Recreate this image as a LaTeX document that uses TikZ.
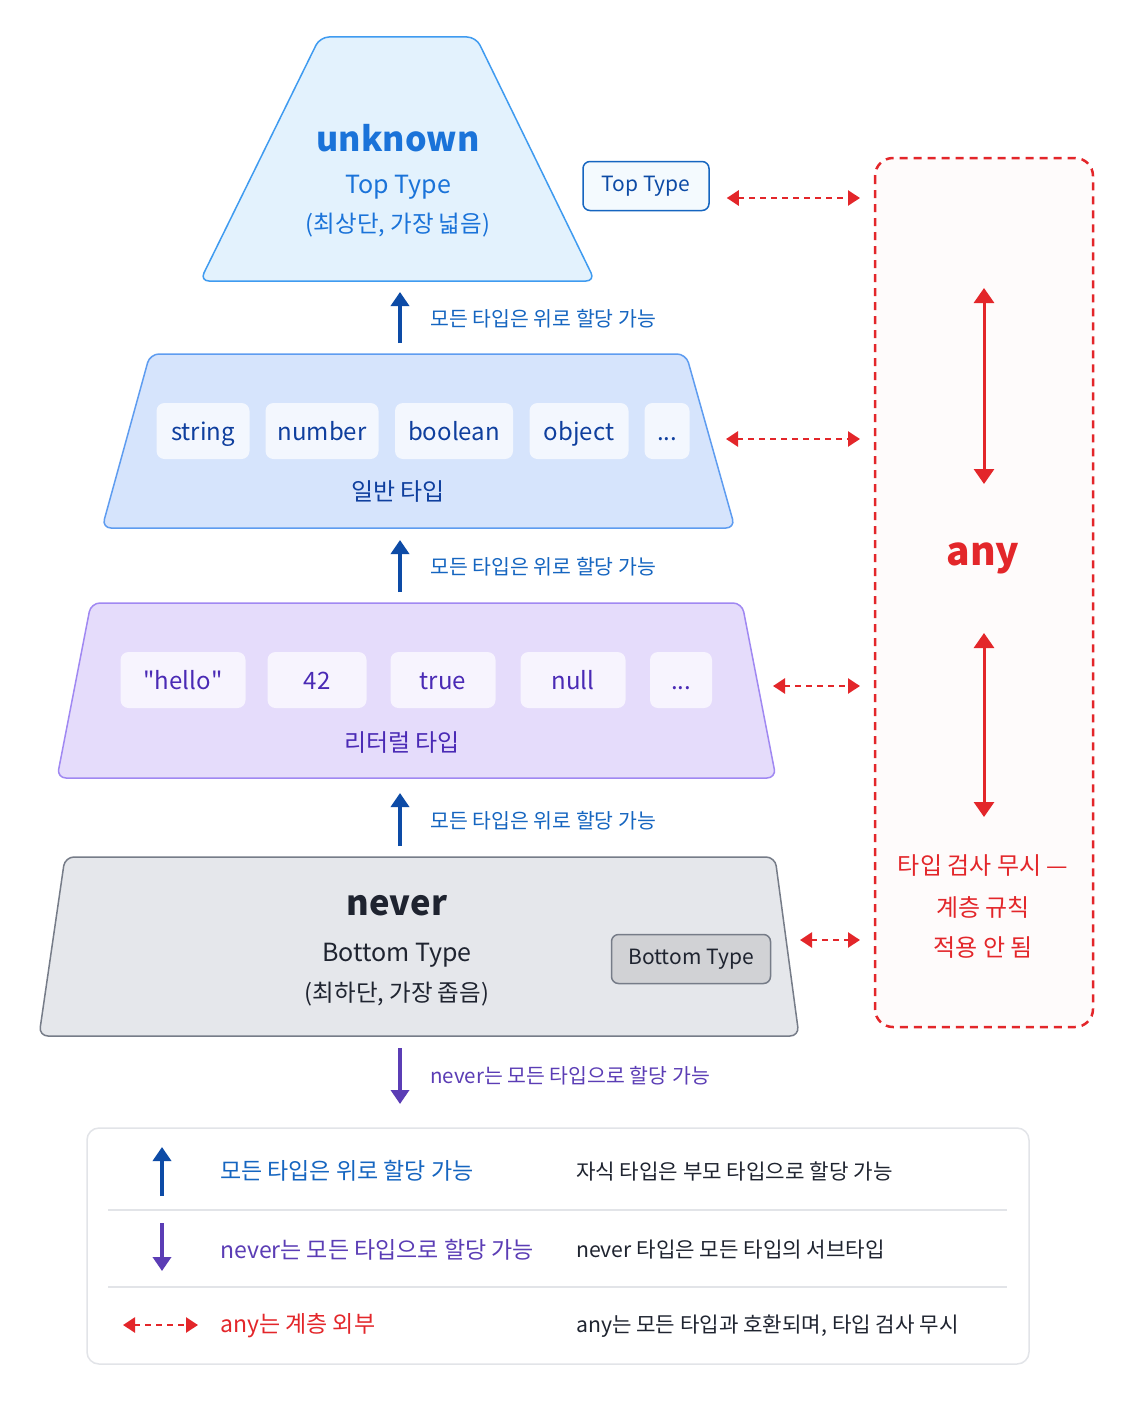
\documentclass[tikz,border=0pt]{standalone}
\usepackage{fontspec}
\setmainfont{Noto Sans CJK KR}
\usetikzlibrary{arrows.meta,positioning,calc}

\definecolor{topfill}{HTML}{E3F2FD}
\definecolor{topline}{HTML}{3F9BF0}
\definecolor{toptext}{HTML}{1A73D9}
\definecolor{genfill}{HTML}{D6E4FC}
\definecolor{genline}{HTML}{5E9CF0}
\definecolor{gentext}{HTML}{0F3F9E}
\definecolor{litfill}{HTML}{E5DCFB}
\definecolor{litline}{HTML}{A088F2}
\definecolor{littext}{HTML}{4A2AB5}
\definecolor{nevfill}{HTML}{E5E7EB}
\definecolor{nevline}{HTML}{767C88}
\definecolor{nevtext}{HTML}{1F2430}
\definecolor{anyred}{HTML}{E3262A}
\definecolor{upblue}{HTML}{0D4BA6}
\definecolor{lblblue}{HTML}{1565C0}
\definecolor{downpurple}{HTML}{5B3DB5}
\definecolor{legline}{HTML}{E2E4E8}

\newcommand\fsz[1]{\fontsize{#1}{#1}\selectfont}

\tikzset{
  layer/.style={rounded corners=9pt, line width=1.5pt},
  chip/.style={rounded corners=8pt, minimum height=56pt, inner sep=0pt, font=\fsz{24},
    text height=18pt, text depth=0pt},
  tag/.style={rounded corners=7pt, line width=1.5pt, inner sep=0pt, minimum height=49pt, font=\fsz{21}},
  uparr/.style={line width=4pt, draw=upblue, -{Triangle[width=18pt,length=14pt]}},
  downarr/.style={line width=4pt, draw=downpurple, -{Triangle[width=18pt,length=14pt]}},
  anyarr/.style={line width=2.5pt, draw=anyred, dash pattern=on 6pt off 5pt,
    {Triangle[width=15pt,length=12pt]}-{Triangle[width=15pt,length=12pt]}},
  anydbl/.style={line width=3pt, draw=anyred,
    {Triangle[width=20pt,length=15pt]}-{Triangle[width=20pt,length=15pt]}},
  arrlbl/.style={anchor=west, inner sep=0pt, font=\fsz{20.5}},
}

\begin{document}
\begin{tikzpicture}[x=1pt, y=-1pt]
  \useasboundingbox (0,0) rectangle (1122,1402);
  \fill[white] (0,0) rectangle (1122,1402);

  % layers
  \draw[layer, fill=topfill, draw=topline] (200,281) -- (320,37) -- (476,37) -- (595,281) -- cycle;
  \draw[layer, fill=genfill, draw=genline] (102,528) -- (150,354) -- (686,354) -- (735,528) -- cycle;
  \draw[layer, fill=litfill, draw=litline] (57,778) -- (91,603) -- (742,603) -- (776,778) -- cycle;
  \draw[layer, fill=nevfill, draw=nevline] (39,1036) -- (65,857) -- (775,857) -- (799,1036) -- cycle;

  % unknown
  \node[text=toptext, font=\fsz{34}\bfseries] (unk) at (398,138) {unknown};
  \node[text=toptext, font=\fsz{25}] (unktop) at (398,187) {Top Type};
  \node[text=toptext, font=\fsz{23.5}] (unkdesc) at (398,225) {(최상단, 가장 넓음)};
  \node[tag, draw=lblblue, fill=topfill!40, text=upblue, minimum width=126pt] (toptag) at (646,186) {Top Type};

  % general
  \node[chip, fill=white!70!genfill, text=gentext, minimum width=93pt] (str) at (203,431) {string};
  \node[chip, fill=white!70!genfill, text=gentext, minimum width=113pt] (num) at (322,431) {number};
  \node[chip, fill=white!70!genfill, text=gentext, minimum width=118pt] (bool) at (454,431) {boolean};
  \node[chip, fill=white!70!genfill, text=gentext, minimum width=99pt] (obj) at (579,431) {object};
  \node[chip, fill=white!70!genfill, text=gentext, minimum width=45pt] (gdots) at (667,431) {...};
  \node[text=gentext, font=\fsz{24}] (gen) at (398,492) {일반 타입};

  % literal
  \node[chip, fill=white!70!litfill, text=littext, minimum width=125pt] (hello) at (183,680) {\textquotedbl hello\textquotedbl};
  \node[chip, fill=white!70!litfill, text=littext, minimum width=99pt] (n42) at (317,680) {42};
  \node[chip, fill=white!70!litfill, text=littext, minimum width=105pt] (tru) at (443,680) {true};
  \node[chip, fill=white!70!litfill, text=littext, minimum width=105pt] (nul) at (573,680) {null};
  \node[chip, fill=white!70!litfill, text=littext, minimum width=62pt] (ldots) at (681,680) {...};
  \node[text=littext, font=\fsz{24}] (lit) at (402,743) {리터럴 타입};

  % never
  \node[text=nevtext, font=\fsz{34.5}\bfseries] (nev) at (397,906) {never};
  \node[text=nevtext, font=\fsz{25}] (nevbot) at (397,955) {Bottom Type};
  \node[text=nevtext, font=\fsz{23.5}] (nevdesc) at (397,994) {(최하단, 가장 좁음)};
  \node[tag, draw=nevline, fill=nevfill!80!gray, text=nevtext, minimum width=159pt] (bottag) at (691,959) {Bottom Type};

  % assign arrows
  \coordinate (u1s) at (400,343); \coordinate (u1e) at (400,292);
  \coordinate (u2s) at (400,592); \coordinate (u2e) at (400,540);
  \coordinate (u3s) at (400,846); \coordinate (u3e) at (400,793);
  \coordinate (dns) at (400,1048); \coordinate (dne) at (400,1104);
  \draw[uparr] (u1s) -- (u1e);
  \draw[uparr] (u2s) -- (u2e);
  \draw[uparr] (u3s) -- (u3e);
  \draw[downarr] (dns) -- (dne);
  \node[arrlbl, text=lblblue] (l1) at (430,319) {모든 타입은 위로 할당 가능};
  \node[arrlbl, text=lblblue] (l2) at (430,567) {모든 타입은 위로 할당 가능};
  \node[arrlbl, text=lblblue] (l3) at (430,821) {모든 타입은 위로 할당 가능};
  \node[arrlbl, text=downpurple] (l4) at (430,1076) {never는 모든 타입으로 할당 가능};

  % any
  \draw[anyred, line width=2.5pt, dash pattern=on 8pt off 6pt, rounded corners=18pt, fill=anyred!2]
    (875,158) rectangle (1093,1027);
  \node[text=anyred, font=\fsz{39}\bfseries] (any) at (983,558) {any};
  \coordinate (a1s) at (984,288); \coordinate (a1e) at (984,484);
  \coordinate (a2s) at (984,633); \coordinate (a2e) at (984,817);
  \draw[anydbl] (a1s) -- (a1e);
  \draw[anydbl] (a2s) -- (a2e);
  \node[text=anyred, font=\fsz{24}] (r1) at (983,866) {타입 검사 무시 —};
  \node[text=anyred, font=\fsz{24}] (r2) at (983,907) {계층 규칙};
  \node[text=anyred, font=\fsz{24}] (r3) at (983,947) {적용 안 됨};

  \coordinate (k1) at (860,198); \coordinate (k2) at (860,439);
  \coordinate (k3) at (860,686); \coordinate (k4) at (860,940);
  \draw[anyarr] ([xshift=17pt]toptag.east |- k1) -- (k1);
  \draw[anyarr] (726,439) -- (k2);
  \draw[anyarr] (773,686) -- (k3);
  \draw[anyarr] (800,940) -- (k4);

  % legend
  \draw[legline, line width=1.5pt, fill=white, rounded corners=12pt] (87,1128) rectangle (1029,1364);
  \draw[legline, line width=1.5pt] (108,1210) -- (1007,1210);
  \draw[legline, line width=1.5pt] (108,1287) -- (1007,1287);
  \coordinate (g1s) at (162,1196); \coordinate (g1e) at (162,1147);
  \coordinate (g2s) at (162,1223); \coordinate (g2e) at (162,1271);
  \coordinate (g3s) at (123,1325); \coordinate (g3e) at (198,1325);
  \draw[uparr] (g1s) -- (g1e);
  \draw[downarr] (g2s) -- (g2e);
  \draw[anyarr] (g3s) -- (g3e);
  \node[arrlbl, text=lblblue, font=\fsz{23}] (leg1) at (220,1171) {모든 타입은 위로 할당 가능};
  \node[arrlbl, text=downpurple, font=\fsz{23}] (leg2) at (220,1250) {never는 모든 타입으로 할당 가능};
  \node[arrlbl, text=anyred, font=\fsz{23}] (leg3) at (220,1326) {any는 계층 외부};
  \node[arrlbl, text=nevtext, font=\fsz{21.2}] (d1) at (576,1171) {자식 타입은 부모 타입으로 할당 가능};
  \node[arrlbl, text=nevtext, font=\fsz{21.2}] (d2) at (576,1250) {never 타입은 모든 타입의 서브타입};
  \node[arrlbl, text=nevtext, font=\fsz{21.2}] (d3) at (576,1326) {any는 모든 타입과 호환되며, 타입 검사 무시};
\end{tikzpicture}
\end{document}
